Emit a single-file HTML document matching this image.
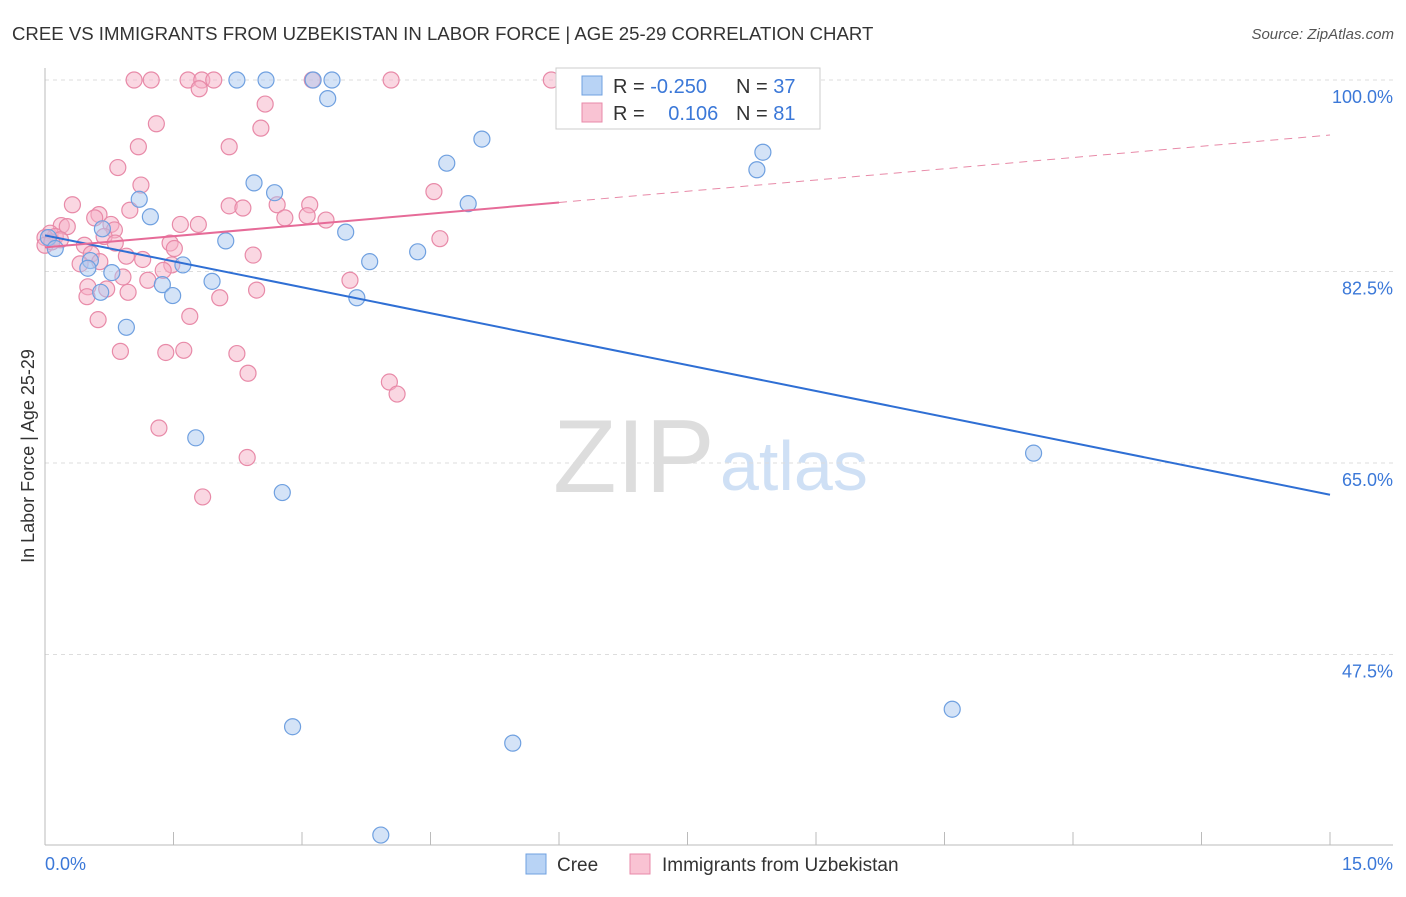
<!DOCTYPE html>
<html><head><meta charset="utf-8"><style>
body{margin:0;background:#fff;font-family:"Liberation Sans",sans-serif}
svg text{font-family:"Liberation Sans",sans-serif}
</style></head><body>
<svg id="chart" width="1406" height="892" xmlns="http://www.w3.org/2000/svg">
<text x="12" y="40" font-size="18.6" fill="#333">CREE VS IMMIGRANTS FROM UZBEKISTAN IN LABOR FORCE | AGE 25-29 CORRELATION CHART</text>
<text x="1394" y="39" font-size="15" fill="#555" font-style="italic" text-anchor="end">Source: ZipAtlas.com</text>
<text x="553" y="492" font-size="104" fill="#ddd" font-family="Liberation Serif">ZIP</text>
<text x="720" y="490" font-size="70" fill="#cfe0f5">atlas</text>
<g id="grid"></g>
<g id="axes"></g>
<g id="marks"></g>
<text transform="translate(34,456) rotate(-90)" font-size="18" fill="#333" text-anchor="middle">In Labor Force | Age 25-29</text>
<text x="45" y="870" font-size="18" fill="#3b78d8">0.0%</text>
<text x="1393" y="870" font-size="18" fill="#3b78d8" text-anchor="end">15.0%</text>
<g>
<rect x="556" y="68" width="264" height="61" fill="#fff" stroke="#ccc"/>
<rect x="582" y="76" width="20" height="19" fill="#b8d3f5" stroke="#6fa0e0"/>
<rect x="582" y="103" width="20" height="19" fill="#f9c3d3" stroke="#e88aa8"/>
<text x="613" y="93" font-size="20" fill="#333">R = <tspan fill="#3b78d8">-0.250</tspan></text>
<text x="736" y="93" font-size="20" fill="#333">N = <tspan fill="#3b78d8">37</tspan></text>
<text x="613" y="120" font-size="20" fill="#333">R = <tspan fill="#3b78d8" dx="18">0.106</tspan></text>
<text x="736" y="120" font-size="20" fill="#333">N = <tspan fill="#3b78d8">81</tspan></text>
</g>
<g><rect x="526" y="854" width="20" height="20" fill="#b8d3f5" stroke="#6fa0e0"/><text x="557" y="871" font-size="19" fill="#333">Cree</text></g>
<g><rect x="630" y="854" width="20" height="20" fill="#f9c3d3" stroke="#e88aa8"/><text x="662" y="871" font-size="19" fill="#333">Immigrants from Uzbekistan</text></g>
</svg>
<script>
const yTicks=[100,82.5,65,47.5];
const yTickLabels=["100.0%","82.5%","65.0%","47.5%"];
const creeX=[2.24,2.58,3.13,3.35,3.30,5.10,4.69,8.38,8.31,2.44,2.68,1.10,1.23,4.94,3.51,2.11,0.67,0.04,0.12,0.53,0.50,1.61,3.79,4.35,0.78,1.95,1.37,1.49,0.65,3.64,0.95,1.76,11.54,2.77,10.59,2.89,5.46,3.92];
const creeY=[100,100,100,100,98.3,94.6,92.4,93.4,91.8,90.6,89.7,89.1,87.5,88.7,86.1,85.3,86.4,85.6,84.6,83.5,82.8,83.1,83.4,84.3,82.4,81.6,81.3,80.3,80.6,80.1,77.4,67.3,65.9,62.3,42.5,40.9,39.4,31.0];
const uzX=[1.04,1.24,1.67,1.83,1.97,3.12,4.04,5.91,1.80,2.57,1.30,2.52,1.09,2.15,0.85,1.12,4.54,0.32,3.09,2.15,2.31,2.71,0.99,0.63,0.58,1.58,1.79,3.06,2.80,3.28,0.19,0.26,0.77,0.81,0.06,0.12,0,0.18,0.69,4.61,1.46,0.46,0.82,1.51,2.43,0.54,0.95,1.14,0.64,0.41,1.48,1.38,1.20,0.91,3.56,0.50,0.72,2.47,0.97,0.49,2.04,1.69,0.62,0.88,1.41,1.62,2.24,2.37,4.02,4.11,1.33,2.36,1.84,0,0.08];
const uzY=[100,100,100,100,100,100,100,100,99.2,97.8,96.0,95.6,93.9,93.9,92.0,90.4,89.8,88.6,88.6,88.5,88.3,88.6,88.1,87.7,87.4,86.8,86.8,87.6,87.4,87.2,86.7,86.6,86.8,86.3,86.0,85.7,85.6,85.4,85.7,85.5,85.1,84.9,85.1,84.6,84.0,84.1,83.9,83.6,83.4,83.2,83.1,82.6,81.7,82.0,81.7,81.1,80.9,80.8,80.6,80.2,80.1,78.4,78.1,75.2,75.1,75.3,75.0,73.2,72.4,71.3,68.2,65.5,61.9,84.9,85.2];
const creeTrend=[85.8,62.1];
const uzTrend=[84.7,94.97];
const uzSolidEnd=6.0;
const NS="http://www.w3.org/2000/svg";
const X=v=>45+v/15*1285, Y=v=>80+(100-v)*191.5/17.5;
function mk(p,t,a){const e=document.createElementNS(NS,t);for(const k in a)e.setAttribute(k,a[k]);document.getElementById(p).appendChild(e);return e;}
yTicks.forEach((t,i)=>{
 const g=mk('grid','line',{x1:45,x2:1393,y1:Y(t),y2:Y(t),stroke:'#ddd','stroke-dasharray':'4,4'});
 
 
 const l=mk('grid','text',{x:1393,y:Y(t)+23,'font-size':18,fill:'#3b78d8','text-anchor':'end'});
 l.textContent=yTickLabels[i];
 
 
});
const ya=mk('axes','line',{x1:45,x2:45,y1:68,y2:845,stroke:'#bbb'});


const xa=mk('axes','line',{x1:45,x2:1393,y1:845,y2:845,stroke:'#bbb'});


for(let i=0;i<=10;i++){const t=mk('axes','line',{x1:X(i*1.5),x2:X(i*1.5),y1:832,y2:845,stroke:'#bbb'});
 
 }
function dots(xs,ys,fill,stroke,name){xs.forEach((x,i)=>{const c=mk('marks','circle',{cx:X(x),cy:Y(ys[i]),r:8,fill:fill,'fill-opacity':0.5,stroke:stroke,'stroke-width':1.2});
 
 });}
dots(uzX,uzY,'#f5b0c6','#e88aa8','uzbekistan-point');
dots(creeX,creeY,'#a9c8f0','#6fa0e0','cree-point');
const bl=mk('marks','line',{x1:X(0),y1:Y(creeTrend[0]),x2:X(15),y2:Y(creeTrend[1]),stroke:'#2f6fd4','stroke-width':2});


const pm=uzTrend[0]+(uzTrend[1]-uzTrend[0])*uzSolidEnd/15;
const pl=mk('marks','line',{x1:X(0),y1:Y(uzTrend[0]),x2:X(uzSolidEnd),y2:Y(pm),stroke:'#e66b98','stroke-width':2});


const pd=mk('marks','line',{x1:X(uzSolidEnd),y1:Y(pm),x2:X(15),y2:Y(uzTrend[1]),stroke:'#e88aa8','stroke-width':1,'stroke-dasharray':'8,6'});


</script>
</body></html>
